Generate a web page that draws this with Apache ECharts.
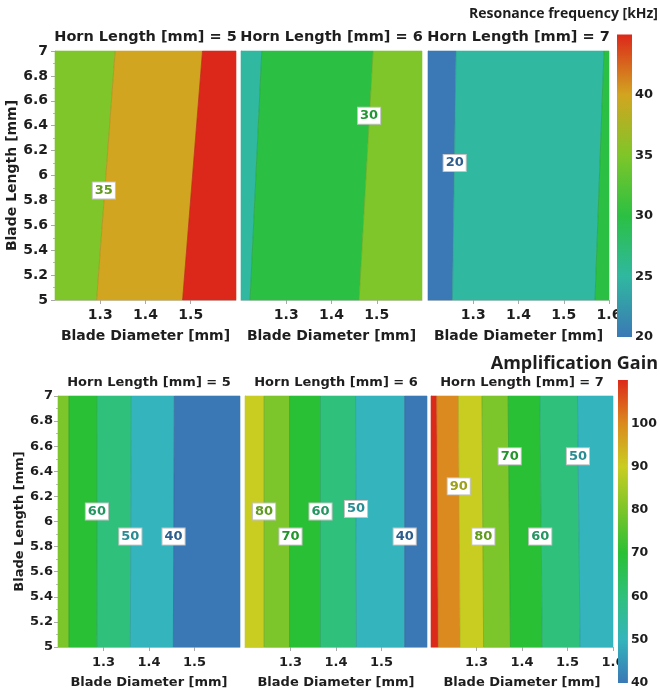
<!DOCTYPE html>
<html><head><meta charset="utf-8">
<script src="https://cdn.jsdelivr.net/npm/echarts@6/dist/echarts.min.js"></script>
<style>html,body{margin:0;padding:0;background:#fff}#chart{width:660px;height:696px}</style>
</head><body><div id="chart"></div>
<script>
// ---------------- data ----------------
const hornLengths = [5, 6, 7];
const bladeDiameterRange = [1.2, 1.6];
const bladeLengthRange = [5, 7];

// Resonance frequency [kHz]
const freqScaleTicks = [20, 25, 30, 35, 40, 45];
// contour lines: [level, blade diameter at blade length 5, blade diameter at blade length 7]
const freqContoursH5 = [[35, 1.292, 1.333], [40, 1.482, 1.526]];
const freqContoursH6 = [[25, 1.220, 1.246], [30, 1.461, 1.492]];
const freqContoursH7 = [[20, 1.254, 1.262], [25, 1.569, 1.589]];
// filled bands from left to right (upper level of band)
const freqBandsH5 = [35, 40, 45];
const freqBandsH6 = [25, 30, 35];
const freqBandsH7 = [20, 25, 30];
// contour labels: [level, blade diameter, blade length]
const freqLabelsH5 = [[35, 1.308, 5.88]];
const freqLabelsH6 = [[30, 1.483, 6.48]];
const freqLabelsH7 = [[20, 1.259, 6.10]];

// Amplification Gain
const gainScaleTicks = [40, 50, 60, 70, 80, 90, 100, 110];
const gainContoursH5 = [[70, 1.224, 1.224], [60, 1.2855, 1.286], [50, 1.359, 1.361], [40, 1.4535, 1.4557]];
const gainContoursH6 = [[80, 1.242, 1.242], [70, 1.298, 1.298], [60, 1.366, 1.366], [50, 1.445, 1.443], [40, 1.551, 1.551]];
const gainContoursH7 = [[100, 1.216, 1.2126], [90, 1.264, 1.2603], [80, 1.3156, 1.312], [70, 1.3746, 1.3695], [60, 1.4446, 1.4393], [50, 1.5277, 1.522]];
const gainBandsH5 = [80, 70, 60, 50, 40];
const gainBandsH6 = [90, 80, 70, 60, 50, 40];
const gainBandsH7 = [110, 100, 90, 80, 70, 60, 50];
const gainLabelsH5 = [[60, 1.2855, 6.08], [50, 1.359, 5.88], [40, 1.454, 5.88]];
const gainLabelsH6 = [[80, 1.242, 6.08], [70, 1.300, 5.88], [60, 1.366, 6.08], [50, 1.444, 6.10], [40, 1.551, 5.88]];
const gainLabelsH7 = [[90, 1.261, 6.28], [70, 1.373, 6.52], [50, 1.523, 6.52], [80, 1.315, 5.88], [60, 1.440, 5.88]];

// ---------------- styles ----------------
const freqColors = ['#3b78b6', '#30b8a0', '#2bc043', '#7ec629', '#d2a520', '#dc281a'];
const gainColors = ['#3a78b5', '#34b4bc', '#2fc07c', '#2ac035', '#7cc52a', '#c9cd22', '#da8a1e', '#dc2a1a'];
const FONT = '"DejaVu Sans", Verdana, sans-serif';
const TXT = '#1e1e1e';

const rows = [
  { ticks: freqScaleTicks, colors: freqColors,
    contours: [freqContoursH5, freqContoursH6, freqContoursH7],
    bands: [freqBandsH5, freqBandsH6, freqBandsH7],
    labels: [freqLabelsH5, freqLabelsH6, freqLabelsH7],
    top: 51, height: 249, lefts: [55, 241, 428], width: 181, fs: 14,
    titleY: 37.5, xLabelMargin: 8, xNameGap: 29, yLabelMargin: 7, yNameGap: 36,
    cb: { left: 617, top: 34.5, width: 15, height: 302.5, fs: 13 },
    head: { text: 'Resonance frequency [kHz]', y: 14, fs: 14 } },
  { ticks: gainScaleTicks, colors: gainColors,
    contours: [gainContoursH5, gainContoursH6, gainContoursH7],
    bands: [gainBandsH5, gainBandsH6, gainBandsH7],
    labels: [gainLabelsH5, gainLabelsH6, gainLabelsH7],
    top: 396, height: 251, lefts: [58, 245, 431], width: 182, fs: 13,
    titleY: 383, xLabelMargin: 9, xNameGap: 29, yLabelMargin: 5, yNameGap: 29,
    cb: { left: 618, top: 380, width: 15, height: 303, fs: 12.5 },
    head: { text: 'Amplification Gain', y: 364, fs: 18 } }
];

function colorFor(row, level) {
  return row.colors[row.ticks.indexOf(level)];
}
function darken(hex, f) {
  const n = parseInt(hex.slice(1), 16);
  const r = Math.round(((n >> 16) & 255) * f), g = Math.round(((n >> 8) & 255) * f), b = Math.round((n & 255) * f);
  return 'rgb(' + r + ',' + g + ',' + b + ')';
}

const grid = [], xAxis = [], yAxis = [], series = [], graphic = [];
const [xMin, xMax] = bladeDiameterRange;
const [yMin, yMax] = bladeLengthRange;

rows.forEach((row, r) => {
  hornLengths.forEach((h, p) => {
    const gi = grid.length;
    grid.push({ left: row.lefts[p], top: row.top, width: row.width, height: row.height, show: false });
    xAxis.push({
      type: 'value', gridIndex: gi, min: xMin, max: xMax, interval: 0.1,
      axisLine: { show: true, lineStyle: { color: '#c8c8c8' } },
      axisTick: { show: true, length: 4, lineStyle: { color: '#aaa' } },
      splitLine: { show: false },
      axisLabel: { showMinLabel: false, showMaxLabel: p === 2, margin: row.xLabelMargin,
        fontFamily: FONT, fontWeight: 'bold', fontSize: row.fs, color: TXT },
      name: 'Blade Diameter [mm]', nameLocation: 'middle', nameGap: row.xNameGap,
      nameTextStyle: { fontFamily: FONT, fontWeight: 'bold', fontSize: row.fs, color: TXT }
    });
    yAxis.push({
      type: 'value', gridIndex: gi, min: yMin, max: yMax, interval: 0.2,
      axisLine: { show: true, lineStyle: { color: '#c8c8c8' } },
      axisTick: { show: p === 0, length: 4, lineStyle: { color: '#aaa' } },
      minorTick: { show: p === 0, splitNumber: 2, length: 2, lineStyle: { color: '#bbb' } },
      splitLine: { show: false },
      axisLabel: { show: p === 0, margin: row.yLabelMargin, fontFamily: FONT, fontWeight: 'bold', fontSize: row.fs, color: TXT },
      name: p === 0 ? 'Blade Length [mm]' : '', nameLocation: 'middle', nameGap: row.yNameGap,
      nameTextStyle: { fontFamily: FONT, fontWeight: 'bold', fontSize: row.fs, color: TXT }
    });

    // filled bands
    const contours = row.contours[p];
    const bands = row.bands[p];
    const edges = [[xMin, xMin]].concat(contours.map(c => [c[1], c[2]])).concat([[xMax, xMax]]);
    const bandData = bands.map((lv, i) => [edges[i][0], yMin, edges[i][1], yMax, edges[i + 1][0], edges[i + 1][1], lv]);
    series.push({
      type: 'custom', xAxisIndex: gi, yAxisIndex: gi, silent: true, z: 2,
      encode: { x: [0, 2, 4, 5], y: [1, 3] },
      data: bandData,
      renderItem: (params, api) => {
        const a = api.coord([api.value(0), api.value(1)]);
        const b = api.coord([api.value(2), api.value(3)]);
        const c = api.coord([api.value(5), api.value(3)]);
        const d = api.coord([api.value(4), api.value(1)]);
        const col = colorFor(row, api.value(6));
        return { type: 'polygon', shape: { points: [a, b, c, d] }, style: { fill: col, stroke: col, lineWidth: 0.6 } };
      }
    });
    // contour lines
    series.push({
      type: 'custom', xAxisIndex: gi, yAxisIndex: gi, silent: true, z: 3,
      encode: { x: [0, 2], y: [1, 3] },
      data: contours.map(c => [c[1], yMin, c[2], yMax, c[0]]),
      renderItem: (params, api) => {
        const a = api.coord([api.value(0), api.value(1)]);
        const b = api.coord([api.value(2), api.value(3)]);
        return { type: 'line', shape: { x1: a[0], y1: a[1], x2: b[0], y2: b[1] },
          style: { stroke: 'rgba(0,0,0,0.13)', lineWidth: 0.8 } };
      }
    });
    // contour labels
    series.push({
      type: 'scatter', xAxisIndex: gi, yAxisIndex: gi, silent: true, z: 5,
      symbolSize: 0, itemStyle: { opacity: 1 },
      data: row.labels[p].map(l => ({ value: [l[1], l[2], l[0]],
        label: { color: darken(colorFor(row, l[0]), 0.78) } })),
      label: { show: true, position: 'inside', formatter: pr => String(pr.value[2]), opacity: 1,
        backgroundColor: '#ffffff', borderColor: '#c4c4c4', borderWidth: 1, padding: [2, 2, 1, 2],
        fontFamily: FONT, fontWeight: 'bold', fontSize: 13 }
    });

    // panel title
    graphic.push({ type: 'text', x: row.lefts[p] + row.width / 2, y: row.titleY, z: 10,
      style: { text: 'Horn Length [mm] = ' + h, align: 'center', verticalAlign: 'middle',
        font: 'bold ' + (r === 0 ? 14.5 : 13) + 'px ' + FONT, fill: TXT } });
  });

  // colour bar
  const gi = grid.length;
  const cb = row.cb;
  const tMin = row.ticks[0], tMax = row.ticks[row.ticks.length - 1];
  grid.push({ left: cb.left, top: cb.top, width: cb.width, height: cb.height, show: false });
  xAxis.push({ type: 'value', gridIndex: gi, min: 0, max: 1, show: false });
  yAxis.push({ type: 'value', gridIndex: gi, min: tMin, max: tMax, interval: row.ticks[1] - row.ticks[0], position: 'right',
    axisLine: { show: false }, axisTick: { show: false }, splitLine: { show: false },
    axisLabel: { showMaxLabel: false, margin: 3, fontFamily: FONT, fontWeight: 'bold', fontSize: cb.fs, color: TXT } });
  series.push({
    type: 'custom', xAxisIndex: gi, yAxisIndex: gi, silent: true, z: 6,
    encode: { x: [0, 2], y: [1, 3] },
    data: [[0, tMin, 1, tMax]],
    renderItem: (params, api) => {
      const lo = api.coord([api.value(0), api.value(1)]);
      const hi = api.coord([api.value(2), api.value(3)]);
      const n = row.colors.length;
      return { type: 'rect', shape: { x: lo[0], y: hi[1], width: hi[0] - lo[0], height: lo[1] - hi[1] },
        style: { fill: { type: 'linear', x: 0, y: 1, x2: 0, y2: 0,
          colorStops: row.colors.map((c, i) => ({ offset: i / (n - 1), color: c })) } } };
    }
  });
  graphic.push({ type: 'text', x: 658, y: row.head.y, z: 10,
    style: { text: row.head.text, align: 'right', verticalAlign: 'middle',
      font: 'bold ' + row.head.fs + 'px "Open Sans", sans-serif', fill: TXT } });
});

const chart = echarts.init(document.getElementById('chart'), null, { renderer: 'canvas' });
chart.setOption({ animation: false, backgroundColor: '#fff', grid, xAxis, yAxis, series, graphic });
</script></body></html>
